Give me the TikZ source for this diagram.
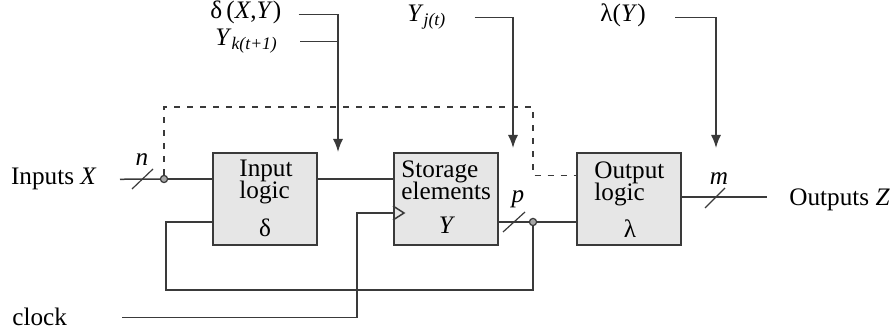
\documentclass[tikz,border=0pt]{standalone}
\usepackage{fontspec}
\setmainfont{Liberation Serif}
\usetikzlibrary{positioning,arrows.meta,calc}
\definecolor{wiregray}{HTML}{3A3A3A}
\definecolor{boxgray}{HTML}{E6E6E6}
\newcommand{\titlefont}{\fontsize{12.6}{11}\selectfont\setlength{\lineskiplimit}{-100pt}\relax}
\tikzset{
    every node/.style={font=\fontsize{12.6}{15}\selectfont,inner sep=0pt},
    block/.style={rectangle,draw=wiregray,fill=boxgray,line width=1pt,minimum width=52pt,minimum height=46pt},
    blocktitle/.style={align=left,anchor=north west,font=\titlefont},
    wire/.style={draw=wiregray,line width=0.75pt},
    feedback/.style={wire,dash pattern=on 3pt off 3.5pt},
    ctrl/.style={wire,-{Latex[length=6.5pt,width=5pt]}},
    junction/.style={circle,draw=wiregray,fill=gray!70,line width=0.6pt,minimum size=3.6pt},
    busbar/.style={wire,line width=0.6pt}
}
\begin{document}
\begin{tikzpicture}[x=0.5pt,y=-0.5pt]
    \useasboundingbox (0,0) rectangle (894,335);
    % the three blocks
    \node[block] (inlogic) at (265,199) {};
    \node[block] (storage) at (446,199) {};
    \node[block] (outlogic) at (629,199) {};
    \node[blocktitle] (intitle) at (239,160) {Input\\logic};
    \node[blocktitle] (sttitle) at (401,160) {Storage\\elements};
    \node[blocktitle] (outtitle) at (594,161) {Output\\logic};
    \node (insym) at (265,228) {δ};
    \node (stsym) at (447,225) {\textit{Y}};
    \node (outsym) at (630,229) {λ};

    % outside labels
    \node[anchor=base east] (inlab) at (97,185) {Inputs \textit{X}};
    \node[anchor=base west] (clocklab) at (12,326) {clock};
    \node[anchor=base west] (outlab) at (789,206) {Outputs \textit{Z}};
    \node[anchor=base west] (deltalab) at (210,19) {δ\,(\textit{X},\textit{Y})};
    \node[anchor=base west] (yklab) at (215,46) {\textit{Y}\textsubscript{\itshape k(t+1)}};
    \node[anchor=base west] (yjlab) at (407,22) {\textit{Y}\textsubscript{\itshape j(t)}};
    \node[anchor=base west] (lamlab) at (600,22) {λ(\textit{Y})};
    \node[anchor=base] (nlab) at (142,166) {\textit{n}};
    \node[anchor=base] (plab) at (518,203) {\textit{p}};
    \node[anchor=base] (mlab) at (719,185) {\textit{m}};

    % junctions and turning points
    \node[junction] (injunc) at (164,179) {};
    \node[junction] (stjunc) at (533,222) {};
    \coordinate (fbtop) at (533,107);
    \coordinate (fbbot) at (166,290);
    \coordinate (clkturn) at (357,213);
    \coordinate (dltip) at (338,152);
    \coordinate (yjtip) at (513,148);
    \coordinate (lamtip) at (716,148);

    % data path
    \draw[wire,shorten <=11.5pt] (inlab.east) -- (injunc);
    \draw[wire] (injunc) -- (inlogic.west |- injunc);
    \draw[wire] (inlogic.east |- injunc) -- (storage.west |- injunc);
    \draw[wire] (storage.east |- stjunc) -- (stjunc) -- (outlogic.west |- stjunc);
    \draw[wire] (stjunc) |- (fbbot) |- (inlogic.west |- stjunc);
    \draw[wire,shorten >=11pt] (outlogic.east |- 0,197) -- (outlab.west |- 0,197);
    \draw[feedback] (injunc) |- (fbtop) |- ($(outlogic.north west)!0.25!(outlogic.south west)$);

    % clock input
    \draw[wire,shorten <=27.5pt] (clocklab.east) -| (clkturn) -- (storage.west |- clkturn);
    \draw[wire] ($(storage.west |- clkturn)+(0,-7)$) -- ++(11,7) -- ++(-11,7);

    % bus widths
    \draw[busbar] (132,189) -- (153,169);
    \draw[busbar] (503,232) -- (525,212);
    \draw[busbar] (705,208) -- (725,188);

    % functions
    \draw[ctrl,shorten <=8.5pt] (deltalab.mid east) -| (dltip);
    \draw[wire,shorten <=11pt] (yklab.east) -- (yklab.east -| dltip);
    \draw[ctrl,shorten <=14pt] (yjlab.mid east) -| (yjtip);
    \draw[ctrl,shorten <=14.5pt] (lamlab.mid east) -| (lamtip);
\end{tikzpicture}
\end{document}
